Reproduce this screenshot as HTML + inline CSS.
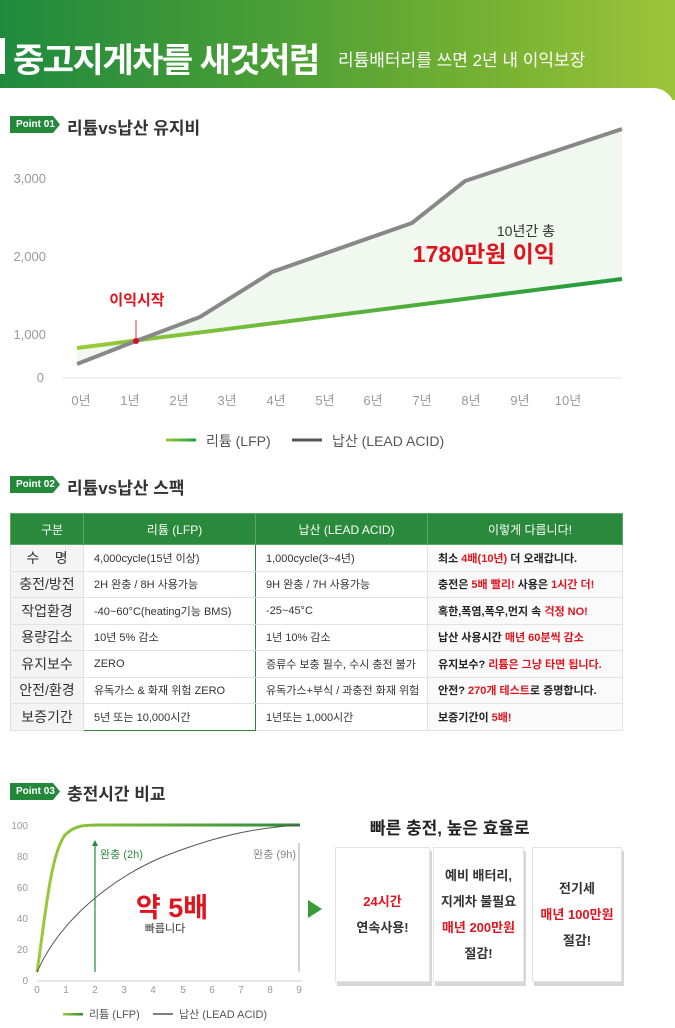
<!DOCTYPE html>
<html><head><meta charset="utf-8"><style>
*{margin:0;padding:0;box-sizing:border-box}
body{width:675px;height:1024px;background:#fff;font-family:"Liberation Sans","Noto Sans CJK KR",sans-serif;position:relative;overflow:hidden;color:#333}
.abs{position:absolute;white-space:nowrap}
.hdr{position:absolute;left:0;top:0;width:675px;height:100px;background:linear-gradient(90deg,#1f8a3e 0%,#4a9e36 40%,#7ab332 75%,#9cc43a 100%)}
.card{position:absolute;left:0;top:88px;width:675px;height:940px;background:#fff;border-top-right-radius:22px}
.tag{position:absolute;height:17px;width:50px;background:#23883a;color:#fff;font-size:10px;font-weight:bold;line-height:17px;padding-left:6px;clip-path:polygon(0 0,86% 0,100% 50%,86% 100%,0 100%)}
.sec{font-size:17px;font-weight:bold;color:#333}
table{position:absolute;left:10px;top:513px;width:613px;border-collapse:collapse;font-size:11px}
td,th{border:1px solid #e2e2e2;height:26.5px;padding-left:10px;text-align:left}
th{background:#2a8a3c;color:#fff;font-weight:normal;text-align:center;height:31px;font-size:12px;border-color:#5aa868}
td.k{background:#f4f4f4;text-align:center;padding:0;font-size:14px;color:#333}
td.r{font-weight:bold;background:#fafafa;color:#222}
.red{color:#e0141e}
.box{position:absolute;top:847px;height:135px;background:#fff;border:1px solid #e3e3e3;box-shadow:2px 4px 0 #d7d7d7;text-align:center;font-size:13px;font-weight:bold;color:#333;display:flex;flex-direction:column;justify-content:center;line-height:26px}
</style></head><body>
<div class="hdr"></div>
<div class="abs" style="left:0;top:38px;width:5px;height:36px;background:#fff"></div>
<div class="abs" style="left:13px;top:33px;font-size:34px;font-weight:bold;color:#fff;letter-spacing:-1.5px">중고지게차를 새것처럼</div>
<div class="abs" style="left:338px;top:46px;font-size:17px;color:#fff">리튬배터리를 쓰면 2년 내 이익보장</div>
<div class="card"></div>

<div class="tag" style="left:10px;top:116px">Point 01</div>
<div class="abs sec" style="left:67px;top:114px">리튬vs납산 유지비</div>

<svg class="abs" style="left:0;top:0" width="675" height="460">
<defs><linearGradient id="g1" gradientUnits="userSpaceOnUse" x1="77" y1="0" x2="622" y2="0"><stop offset="0" stop-color="#9acb3a"/><stop offset="1" stop-color="#1f9a3c"/></linearGradient>
<linearGradient id="g1b" gradientUnits="userSpaceOnUse" x1="166" y1="0" x2="196" y2="0"><stop offset="0" stop-color="#9acb3a"/><stop offset="1" stop-color="#1f9a3c"/></linearGradient></defs>
<polygon points="136,341 200,317 272,272 412,223 465,181 622,129 622,279" fill="#f1f8f0"/>
<polygon points="77,348 136,341 77,364" fill="#f1f8f0"/>
<line x1="62" y1="378" x2="622" y2="378" stroke="#e4e4e4" stroke-width="1"/>
<g font-size="13" fill="#999" text-anchor="end"><text x="46" y="183">3,000</text><text x="46" y="261">2,000</text><text x="46" y="339">1,000</text><text x="44" y="382">0</text></g>
<g font-size="13" fill="#999" text-anchor="middle"><text x="81" y="405">0년</text><text x="130" y="405">1년</text><text x="179" y="405">2년</text><text x="227" y="405">3년</text><text x="276" y="405">4년</text><text x="325" y="405">5년</text><text x="373" y="405">6년</text><text x="422" y="405">7년</text><text x="471" y="405">8년</text><text x="520" y="405">9년</text><text x="568" y="405">10년</text></g>
<line x1="77" y1="348" x2="622" y2="279" stroke="url(#g1)" stroke-width="4"/>
<polyline points="77,364 136,341 200,317 272,272 412,223 465,181 622,129" fill="none" stroke="#888" stroke-width="4"/>
<line x1="136" y1="320" x2="136" y2="340" stroke="#d33" stroke-width="1"/>
<circle cx="136" cy="341" r="3" fill="#d0102a"/>
<text x="137" y="305" font-size="15" font-weight="bold" fill="#e0141e" text-anchor="middle">이익시작</text>
<text x="555" y="236" font-size="14" fill="#333" text-anchor="end">10년간 총</text>
<text x="555" y="262" font-size="23" font-weight="bold" fill="#e0141e" text-anchor="end">1780만원 이익</text>
<rect x="166" y="438.5" width="30" height="3" fill="url(#g1b)"/>
<text x="206" y="446" font-size="14" fill="#555">리튬 (LFP)</text>
<line x1="292" y1="440" x2="322" y2="440" stroke="#555" stroke-width="3"/>
<text x="332" y="446" font-size="14" fill="#555">납산 (LEAD ACID)</text>
</svg>

<div class="tag" style="left:10px;top:476px">Point 02</div>
<div class="abs sec" style="left:67px;top:474px">리튬vs납산 스팩</div>

<table>
<tr><th style="width:73px">구분</th><th style="width:172px">리튬 (LFP)</th><th style="width:172px">납산 (LEAD ACID)</th><th>이렇게 다릅니다!</th></tr>
<tr><td class="k">수 &nbsp;&nbsp;&nbsp;명</td><td style="border-left:1.5px solid #2a8a3c;border-right:1.5px solid #2a8a3c">4,000cycle(15년 이상)</td><td>1,000cycle(3~4년)</td><td class="r">최소 <span class="red">4배(10년)</span> 더 오래갑니다.</td></tr>
<tr><td class="k">충전/방전</td><td style="border-left:1.5px solid #2a8a3c;border-right:1.5px solid #2a8a3c">2H 완충 / 8H 사용가능</td><td>9H 완충 / 7H 사용가능</td><td class="r">충전은 <span class="red">5배 빨리!</span> 사용은 <span class="red">1시간 더!</span></td></tr>
<tr><td class="k">작업환경</td><td style="border-left:1.5px solid #2a8a3c;border-right:1.5px solid #2a8a3c">-40~60°C(heating기능 BMS)</td><td>-25~45°C</td><td class="r">혹한,폭염,폭우,먼지 속 <span class="red">걱정 NO!</span></td></tr>
<tr><td class="k">용량감소</td><td style="border-left:1.5px solid #2a8a3c;border-right:1.5px solid #2a8a3c">10년 5% 감소</td><td>1년 10% 감소</td><td class="r">납산 사용시간 <span class="red">매년 60분씩 감소</span></td></tr>
<tr><td class="k">유지보수</td><td style="border-left:1.5px solid #2a8a3c;border-right:1.5px solid #2a8a3c">ZERO</td><td>증류수 보충 필수, 수시 충전 불가</td><td class="r">유지보수? <span class="red">리튬은 그냥 타면 됩니다.</span></td></tr>
<tr><td class="k">안전/환경</td><td style="border-left:1.5px solid #2a8a3c;border-right:1.5px solid #2a8a3c">유독가스 &amp; 화재 위험 ZERO</td><td>유독가스+부식 / 과충전 화재 위험</td><td class="r">안전? <span class="red">270개 테스트</span>로 증명합니다.</td></tr>
<tr><td class="k">보증기간</td><td style="border-left:1.5px solid #2a8a3c;border-right:1.5px solid #2a8a3c;border-bottom:1.5px solid #2a8a3c">5년 또는 10,000시간</td><td>1년또는 1,000시간</td><td class="r">보증기간이 <span class="red">5배!</span></td></tr>
</table>

<div class="tag" style="left:10px;top:783px">Point 03</div>
<div class="abs sec" style="left:67px;top:780px">충전시간 비교</div>

<svg class="abs" style="left:0;top:800px" width="330" height="224">
<defs><linearGradient id="g2" gradientUnits="userSpaceOnUse" x1="37" y1="0" x2="300" y2="0"><stop offset="0" stop-color="#9acb3a"/><stop offset="1" stop-color="#2a8a3c"/></linearGradient>
<linearGradient id="g2b" gradientUnits="userSpaceOnUse" x1="63" y1="0" x2="83" y2="0"><stop offset="0" stop-color="#9acb3a"/><stop offset="1" stop-color="#2a8a3c"/></linearGradient></defs>
<g font-size="10" fill="#999" text-anchor="end"><text x="28" y="29">100</text><text x="28" y="60">80</text><text x="28" y="91">60</text><text x="28" y="122">40</text><text x="28" y="153">20</text><text x="28" y="184">0</text></g>
<line x1="37" y1="181" x2="302" y2="181" stroke="#ccc"/>
<g font-size="10" fill="#999" text-anchor="middle"><text x="37" y="193">0</text><text x="66" y="193">1</text><text x="95" y="193">2</text><text x="124" y="193">3</text><text x="153" y="193">4</text><text x="183" y="193">5</text><text x="212" y="193">6</text><text x="241" y="193">7</text><text x="270" y="193">8</text><text x="299" y="193">9</text></g>
<path d="M37,172 C45,120 50,55 65,35 C75,25 85,25 100,25 L300,25" fill="none" stroke="url(#g2)" stroke-width="3"/>
<path d="M37,172 C60,120 110,80 160,58 C210,38 250,28 300,25" fill="none" stroke="#555" stroke-width="1"/>
<line x1="95" y1="172" x2="95" y2="43" stroke="#2a8a3c" stroke-width="1.2"/>
<polygon points="92,46 95,40 98,46" fill="#2a8a3c"/>
<line x1="299" y1="172" x2="299" y2="43" stroke="#aaa" stroke-width="1"/>
<text x="100" y="58" font-size="11" fill="#2a8a3c">완충 (2h)</text>
<text x="296" y="58" font-size="11" fill="#888" text-anchor="end">완충 (9h)</text>
<text x="172" y="117" font-size="27" font-weight="bold" fill="#e0141e" text-anchor="middle">약 5배</text>
<text x="165" y="132" font-size="11" fill="#333" text-anchor="middle">빠릅니다</text>
<rect x="63" y="213" width="20" height="2.5" fill="url(#g2b)"/>
<text x="89" y="218" font-size="11" fill="#555">리튬 (LFP)</text>
<line x1="153" y1="214" x2="173" y2="214" stroke="#555" stroke-width="1.5"/>
<text x="179" y="218" font-size="11" fill="#555">납산 (LEAD ACID)</text>
</svg>

<div class="abs" style="left:308px;top:900px;width:0;height:0;border-left:14px solid #3a9a3a;border-top:9px solid transparent;border-bottom:9px solid transparent"></div>
<div class="abs" style="left:370px;top:814px;font-size:17px;font-weight:bold;color:#222">빠른 충전, 높은 효율로</div>
<div class="box" style="left:335px;width:95px"><div class="red">24시간</div><div>연속사용!</div></div>
<div class="box" style="left:433px;width:91px"><div>예비 배터리,</div><div>지게차 불필요</div><div class="red">매년 200만원</div><div>절감!</div></div>
<div class="box" style="left:532px;width:90px"><div>전기세</div><div class="red">매년 100만원</div><div>절감!</div></div>
</body></html>
